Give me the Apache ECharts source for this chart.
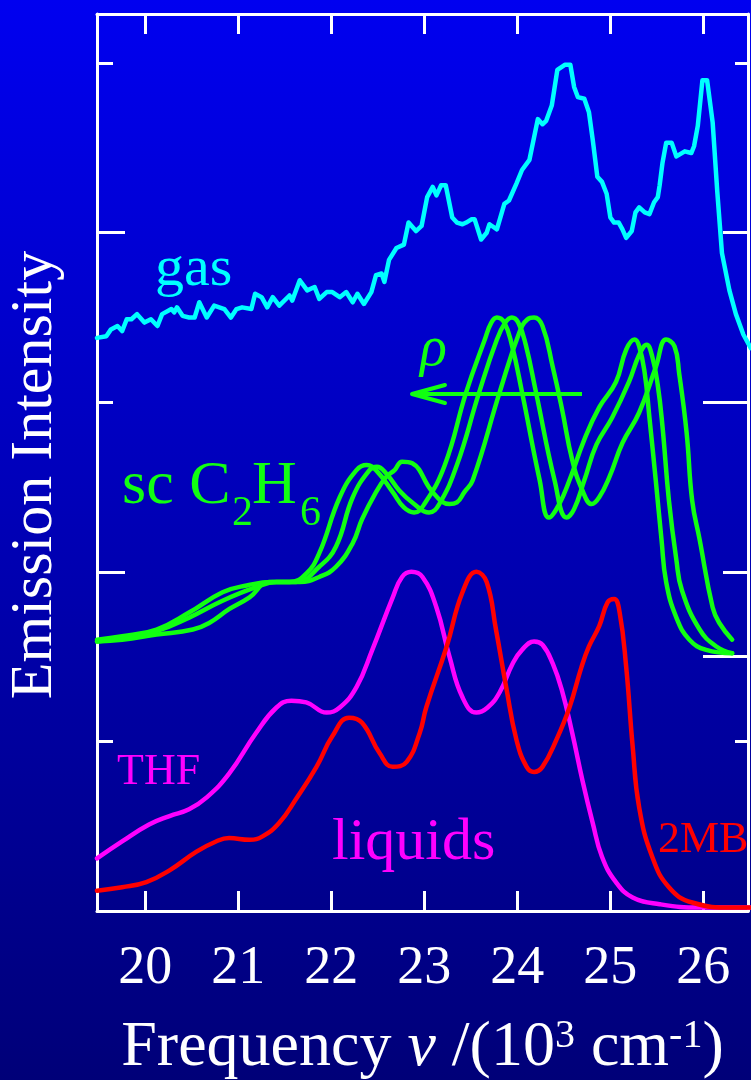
<!DOCTYPE html>
<html>
<head>
<meta charset="utf-8">
<script src="https://cdn.jsdelivr.net/npm/echarts@6/dist/echarts.min.js"></script>
<style>
html, body { margin: 0; padding: 0; }
#main { width: 751px; height: 1080px; background: linear-gradient(to bottom, #0000f0, #000078); }
</style>
</head>
<body>
<div id="main"></div>
<script>
// frequency in 10^3 cm^-1, intensity in tick units (arbitrary)
const freqTicks = [20, 21, 22, 23, 24, 25, 26];
const leftShortTicks = [1, 3, 5];
const leftLongTicks = [2, 4];
const rightShortTicks = [1, 5];
const rightMidTicks = [2, 4];
const rightLongTicks = [1.5, 3];

const gasFreq = [19.48,19.58,19.63,19.70,19.75,19.80,19.85,19.91,19.99,20.06,20.13,20.18,20.28,20.31,20.34,20.40,20.47,20.53,20.58,20.66,
  20.74,20.85,20.92,20.98,21.04,21.14,21.18,21.25,21.31,21.37,21.44,21.55,21.58,21.66,21.74,21.82,21.87,21.95,22.01,22.09,
  22.16,22.23,22.28,22.35,22.43,22.48,22.54,22.57,22.62,22.70,22.78,22.83,22.91,22.97,23.03,23.09,23.13,23.18,23.23,23.30,
  23.35,23.41,23.45,23.51,23.54,23.61,23.67,23.70,23.78,23.86,23.91,23.99,24.05,24.13,24.22,24.27,24.31,24.37,24.43,24.51,
  24.57,24.61,24.65,24.72,24.77,24.81,24.86,24.91,24.96,25.00,25.04,25.09,25.13,25.17,25.23,25.27,25.31,25.37,25.42,25.47,
  25.51,25.53,25.56,25.60,25.66,25.71,25.80,25.87,25.90,25.94,25.99,26.04,26.10,26.15,26.20,26.28,26.35,26.43,26.51];
const gasInt = [3.38,3.39,3.43,3.45,3.42,3.49,3.49,3.52,3.47,3.49,3.45,3.52,3.55,3.53,3.56,3.51,3.50,3.50,3.59,3.50,
  3.57,3.55,3.50,3.55,3.56,3.55,3.64,3.62,3.56,3.62,3.57,3.63,3.60,3.72,3.66,3.68,3.61,3.65,3.65,3.62,
  3.65,3.59,3.64,3.58,3.65,3.75,3.76,3.71,3.84,3.91,3.93,4.06,4.01,4.04,4.21,4.27,4.22,4.28,4.28,4.09,
  4.06,4.05,4.06,4.08,4.08,3.96,4.00,4.05,4.02,4.17,4.19,4.29,4.37,4.43,4.67,4.64,4.66,4.75,4.96,4.99,
  4.99,4.86,4.80,4.79,4.71,4.55,4.33,4.30,4.23,4.09,4.06,4.06,4.02,3.97,4.01,4.12,4.15,4.12,4.11,4.18,
  4.21,4.28,4.41,4.53,4.53,4.45,4.48,4.47,4.51,4.63,4.90,4.90,4.65,4.24,3.88,3.66,3.52,3.40,3.32];

const scAFreq = [19.48,19.75,20.12,20.47,20.83,21.09,21.37,21.55,21.73,21.87,22.09,22.27,22.38,22.48,22.66,22.78,22.89,23.00,23.22,23.45,
  23.65,23.72,23.78,23.86,23.94,24.05,24.24,24.34,24.45,24.56,24.72,24.88,25.06,25.17,25.26,25.31,25.37,25.42,25.49,25.55,
  25.60,25.71,25.85,26.03,26.31];
const scAInt = [1.60,1.62,1.66,1.76,1.88,1.92,1.94,1.94,1.99,2.11,2.44,2.60,2.63,2.60,2.47,2.38,2.35,2.40,2.63,3.06,
  3.37,3.47,3.50,3.47,3.34,3.06,2.54,2.32,2.40,2.54,2.78,2.97,3.12,3.31,3.37,3.33,3.17,2.91,2.53,2.19,
  1.94,1.73,1.60,1.54,1.52];
const scBFreq = [19.48,19.75,20.12,20.47,20.83,21.19,21.41,21.62,21.87,22.05,22.23,22.41,22.49,22.59,22.73,22.89,23.05,23.16,23.35,23.59,
  23.78,23.87,23.94,24.01,24.09,24.20,24.40,24.53,24.61,24.72,24.85,25.02,25.20,25.31,25.39,25.45,25.51,25.56,25.63,25.71,
  25.77,25.96,26.14,26.31];
const scBInt = [1.59,1.61,1.65,1.73,1.83,1.91,1.94,1.94,2.03,2.15,2.44,2.60,2.62,2.58,2.48,2.40,2.35,2.40,2.63,3.06,
  3.37,3.47,3.50,3.47,3.34,3.06,2.54,2.32,2.37,2.54,2.75,2.91,3.12,3.28,3.34,3.27,3.10,2.86,2.42,2.07,
  1.89,1.66,1.56,1.52];
const scCFreq = [19.48,19.75,20.12,20.51,20.69,20.90,21.12,21.33,21.66,21.87,22.05,22.23,22.33,22.48,22.59,22.68,22.76,22.87,23.09,23.27,
  23.35,23.43,23.52,23.81,24.02,24.11,24.18,24.27,24.38,24.48,24.59,24.70,24.80,24.88,24.99,25.13,25.31,25.49,25.60,25.69,
  25.74,25.82,25.88,25.96,26.10,26.17,26.31];
const scCInt = [1.59,1.60,1.63,1.66,1.70,1.78,1.85,1.94,1.94,1.97,2.03,2.17,2.31,2.47,2.56,2.60,2.65,2.64,2.47,2.40,
  2.41,2.47,2.54,3.06,3.41,3.49,3.50,3.45,3.21,2.96,2.66,2.48,2.40,2.44,2.56,2.76,2.94,3.21,3.37,3.33,
  3.17,2.82,2.42,2.19,1.79,1.70,1.60];

const thfFreq = [19.48,19.75,20.04,20.26,20.47,20.66,20.90,21.19,21.41,21.57,21.73,21.95,22.09,22.27,22.44,22.66,22.76,22.86,22.98,23.13,
  23.27,23.41,23.56,23.68,23.81,23.95,24.05,24.18,24.27,24.38,24.48,24.59,24.70,24.81,24.91,25.06,25.24,25.53,25.96,26.50];
const thfInt = [0.31,0.41,0.51,0.56,0.60,0.67,0.81,1.05,1.20,1.24,1.23,1.17,1.20,1.32,1.54,1.85,1.97,2.00,1.97,1.79,
  1.50,1.26,1.17,1.20,1.29,1.46,1.54,1.59,1.57,1.46,1.30,1.05,0.77,0.52,0.32,0.17,0.08,0.04,0.02,0.02];
const mbFreq = [19.48,19.75,20.01,20.26,20.55,20.76,20.90,21.12,21.26,21.44,21.62,21.84,22.01,22.19,22.33,22.52,22.66,22.81,22.95,23.02,
  23.24,23.41,23.56,23.67,23.77,23.88,23.99,24.10,24.18,24.27,24.42,24.56,24.69,24.77,24.88,24.97,25.04,25.10,25.17,25.24,
  25.31,25.45,25.63,25.88,26.31,26.50];
const mbInt = [0.12,0.14,0.17,0.24,0.35,0.41,0.43,0.42,0.44,0.52,0.66,0.85,1.03,1.14,1.11,0.93,0.85,0.88,1.05,1.20,
  1.56,1.88,2.00,1.94,1.66,1.32,1.01,0.85,0.82,0.85,1.01,1.20,1.44,1.56,1.68,1.82,1.84,1.76,1.44,0.97,
  0.61,0.32,0.14,0.05,0.02,0.02];

const pairs = (xs, ys) => xs.map((x, i) => [x, ys[i]]);
const serif = '"Liberation Serif", "DejaVu Serif", serif';
const white = '#ffffff';
const green = '#11ff11';

function line(name, xs, ys, color, smooth) {
  return {
    name: name, type: 'line', data: pairs(xs, ys), showSymbol: false, smooth: smooth,
    lineStyle: { color: color, width: 4.5, cap: 'round', join: 'round' }, z: 3
  };
}

const tickStyle = { color: white, width: 3 };
const yBase = { type: 'value', min: 0, max: 5.29, splitLine: { show: false }, axisLabel: { show: false } };
const xBase = { type: 'value', min: 19.48, max: 26.48, splitLine: { show: false } };

let option = {
  animation: false,
  grid: { left: 97, right: 3, top: 14, bottom: 169, outerBoundsMode: 'none', containLabel: false },
  xAxis: [
    Object.assign({}, xBase, {
      position: 'bottom',
      axisLine: { show: true, onZero: false, lineStyle: tickStyle },
      axisTick: { inside: true, length: 20, customValues: freqTicks, lineStyle: tickStyle },
      axisLabel: { customValues: freqTicks, color: white, fontSize: 54, fontFamily: serif, margin: 31 },
      name: '{t|Frequency }{i|\u03bd }{t|/(10}{s|3}{t| cm}{s|-1}{t|)}',
      nameLocation: 'middle', nameGap: 105,
      nameTextStyle: {
        color: white, fontFamily: serif, fontSize: 64,
        rich: {
          t: { color: white, fontFamily: serif, fontSize: 64, lineHeight: 64 },
          i: { color: white, fontFamily: serif, fontSize: 64, lineHeight: 64, fontStyle: 'italic' },
          s: { color: white, fontFamily: serif, fontSize: 40, lineHeight: 18, verticalAlign: 'top' }
        }
      }
    }),
    Object.assign({}, xBase, {
      position: 'top',
      axisLine: { show: true, onZero: false, lineStyle: tickStyle },
      axisTick: { inside: true, length: 20, customValues: freqTicks, lineStyle: tickStyle },
      axisLabel: { show: false }
    })
  ],
  yAxis: [
    Object.assign({}, yBase, { position: 'left',
      axisLine: { show: true, onZero: false, lineStyle: tickStyle },
      axisTick: { inside: true, length: 16, customValues: leftShortTicks, lineStyle: tickStyle } }),
    Object.assign({}, yBase, { position: 'left',
      axisLine: { show: false, onZero: false },
      axisTick: { show: true, inside: true, length: 28, customValues: leftLongTicks, lineStyle: tickStyle } }),
    Object.assign({}, yBase, { position: 'right',
      axisLine: { show: true, onZero: false, lineStyle: tickStyle },
      axisTick: { inside: true, length: 13, customValues: rightShortTicks, lineStyle: tickStyle } }),
    Object.assign({}, yBase, { position: 'right',
      axisLine: { show: false, onZero: false },
      axisTick: { show: true, inside: true, length: 25, customValues: rightMidTicks, lineStyle: tickStyle } }),
    Object.assign({}, yBase, { position: 'right',
      axisLine: { show: false, onZero: false },
      axisTick: { show: true, inside: true, length: 45, customValues: rightLongTicks, lineStyle: tickStyle } })
  ],
  series: [
    line('gas', gasFreq, gasInt, '#00ffff', false),
    line('sc C2H6 a', scAFreq, scAInt, green, 0.45),
    line('sc C2H6 b', scBFreq, scBInt, green, 0.45),
    line('sc C2H6 c', scCFreq, scCInt, green, 0.45),
    line('THF', thfFreq, thfInt, '#ff00ff', 0.45),
    line('2MB', mbFreq, mbInt, '#ff0000', 0.45)
  ],
  graphic: [
    { type: 'text', x: 35, y: 475, rotation: Math.PI / 2,
      style: { text: 'Emission Intensity', fill: white, font: '60px ' + serif,
        align: 'center', verticalAlign: 'middle', textAlign: 'center', textVerticalAlign: 'middle' } },
    { type: 'text', x: 155, y: 270,
      style: { text: 'gas', fill: '#00ffff', font: '58px ' + serif, verticalAlign: 'middle', textVerticalAlign: 'middle' } },
    { type: 'text', x: 122, y: 487,
      style: { text: 'sc C', fill: green, font: '62px ' + serif, verticalAlign: 'middle', textVerticalAlign: 'middle' } },
    { type: 'text', x: 232, y: 514,
      style: { text: '2', fill: green, font: '42px ' + serif, verticalAlign: 'middle', textVerticalAlign: 'middle' } },
    { type: 'text', x: 252, y: 487,
      style: { text: 'H', fill: green, font: '62px ' + serif, verticalAlign: 'middle', textVerticalAlign: 'middle' } },
    { type: 'text', x: 300, y: 514,
      style: { text: '6', fill: green, font: '42px ' + serif, verticalAlign: 'middle', textVerticalAlign: 'middle' } },
    { type: 'text', x: 420, y: 350,
      style: { text: '\u03c1', fill: green, font: 'italic 56px ' + serif, verticalAlign: 'middle', textVerticalAlign: 'middle' } },
    { type: 'polyline', shape: { points: [[582, 394], [412, 394]] },
      style: { stroke: green, lineWidth: 4, fill: null } },
    { type: 'polyline', shape: { points: [[445, 385], [412, 394], [445, 403]] },
      style: { stroke: green, lineWidth: 4, fill: null, lineCap: 'round', lineJoin: 'round' } },
    { type: 'text', x: 117, y: 772,
      style: { text: 'THF', fill: '#ff00ff', font: '44px ' + serif, verticalAlign: 'middle', textVerticalAlign: 'middle' } },
    { type: 'text', x: 332, y: 843,
      style: { text: 'liquids', fill: '#ff00ff', font: '60px ' + serif, verticalAlign: 'middle', textVerticalAlign: 'middle' } },
    { type: 'text', x: 658, y: 840,
      style: { text: '2MB', fill: '#ff0000', font: '44px ' + serif, verticalAlign: 'middle', textVerticalAlign: 'middle' } }
  ]
};

let myChart = echarts.init(document.getElementById('main'));
myChart.setOption(option);
</script>
</body>
</html>
